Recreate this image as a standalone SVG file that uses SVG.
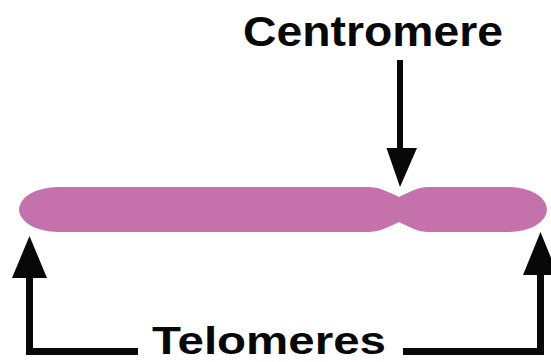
<svg xmlns="http://www.w3.org/2000/svg" width="551" height="362" viewBox="0 0 551 362">
  <style>
    .label { font-family: "Liberation Sans", "DejaVu Sans", sans-serif; font-weight: bold; font-size: 42px; fill: #080808; }
    .wire { fill: none; stroke: #080808; stroke-width: 7; stroke-linecap: butt; stroke-linejoin: miter; }
    .head { fill: #080808; }
    .chromatid { fill: #c572ac; }
  </style>
  <rect width="551" height="362" fill="#ffffff"/>

  <!-- chromosome: long arm, centromere constriction, short arm -->
  <g id="chromosome">
    <path class="chromatid" d="M 58 187 H 368 C 378 187, 387 191, 399 197 C 411 191, 419 187, 428 187 H 509 A 38 22.5 0 0 1 509 232 H 428 C 419 232, 411 228, 399 222 C 387 228, 378 232, 368 232 H 58 A 39 22.5 0 0 1 58 187 Z"/>
  </g>

  <g id="label-centromere">
    <text class="label" x="243" y="46" textLength="260" lengthAdjust="spacingAndGlyphs">Centromere</text>
  </g>

  <g id="label-telomeres">
    <text class="label" x="152" y="353.5" style="font-size:38px" textLength="234" lengthAdjust="spacingAndGlyphs">Telomeres</text>
  </g>

  <g id="connectors">
    <!-- centromere pointer -->
    <path class="wire" d="M 400 60 V 152" style="stroke-width:6"/>
    <polygon class="head" points="386.5,148 417,148 400,187"/>
    <!-- left telomere pointer -->
    <path class="wire" d="M 29.5 275 V 351.5 H 138"/>
    <polygon class="head" points="12,278 47,278 29.5,236"/>
    <!-- right telomere pointer -->
    <path class="wire" d="M 403 351.5 H 540.5 V 272"/>
    <polygon class="head" points="523,275 558,275 540.5,232"/>
  </g>
</svg>
